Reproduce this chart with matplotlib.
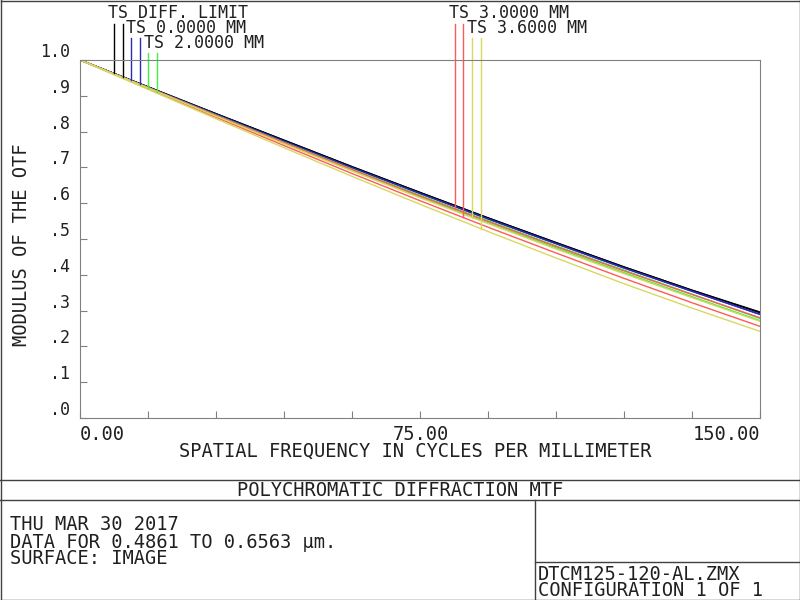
import matplotlib
matplotlib.use("Agg")
import matplotlib.pyplot as plt
from matplotlib.lines import Line2D
import numpy as np

freq = [0, 15, 30, 45, 60, 75, 90, 105, 120, 135, 150]
diff_t = [1, .925, .850, .776, .702, .630, .559, .490, .422, .357, .296]
diff_s = [1, .925, .850, .776, .702, .630, .559, .490, .422, .357, .294]
f0_t = [1, .924, .848, .773, .699, .627, .556, .487, .419, .354, .290]
f0_s = [1, .924, .848, .773, .699, .627, .556, .487, .419, .354, .289]
f2_t = [1, .923, .846, .770, .695, .622, .551, .481, .413, .346, .278]
f2_s = [1, .922, .844, .767, .691, .617, .545, .475, .406, .339, .272]
f3_t = [1, .923, .845, .769, .694, .620, .549, .479, .411, .345, .280]
f3_s = [1, .920, .840, .761, .683, .607, .533, .461, .390, .322, .256]
f36_t = [1, .922, .843, .766, .690, .615, .543, .472, .403, .336, .270]
f36_s = [1, .918, .836, .755, .675, .597, .521, .447, .375, .307, .242]
labels = ["TS DIFF. LIMIT", "TS 0.0000 MM", "TS 2.0000 MM", "TS 3.0000 MM", "TS 3.6000 MM"]
xticklabels = ["0.00", "75.00", "150.00"]
yticklabels = ["1.0", ".9", ".8", ".7", ".6", ".5", ".4", ".3", ".2", ".1", ".0"]

colors = ["#000000", "#2a2ab8", "#40f040", "#ff5a5a", "#d8d860"]
series = [(diff_t, diff_s), (f0_t, f0_s), (f2_t, f2_s), (f3_t, f3_s), (f36_t, f36_s)]

W, H = 800, 600
fig = plt.figure(figsize=(8, 6), dpi=100)
ax = fig.add_axes([80/W, 1-418/H, 680/W, 358/H])
ax.set_xlim(0, 150)
ax.set_ylim(0, 1)
for (t, s), c in zip(series, colors):
    ax.plot(freq, t, color=c, lw=1)
    ax.plot(freq, s, color=c, lw=1)
for sp in ax.spines.values():
    sp.set_color("#808080")
ax.set_xticks([15*i for i in range(11)])
ax.set_yticks([0.1*i for i in range(11)])
ax.tick_params(direction="in", length=5, color="#808080", labelleft=False, labelbottom=False)

px = lambda x: (x-80)/680*150
py = lambda y: (418-y)/358
legend_x = [(114, 123), (131, 140), (148, 157), (455, 463), (472, 481)]
legend_top = [24, 38, 53, 24, 38]
for (xa, xb), top, (t, s), c in zip(legend_x, legend_top, series, colors):
    for xx, ys in ((xa, t), (xb, s)):
        fx = px(xx)
        ax.plot([fx, fx], [float(np.interp(fx, freq, ys)), py(top)], color=c, lw=1, clip_on=False)

mono = dict(family="DejaVu Sans Mono", color="#202020", fontsize=13.5)
def T(x, y, s, ha="left", **kw):
    d = dict(mono); d.update(kw)
    fig.text(x/W, 1-y/H, s, ha=ha, va="center", **d)

LS = dict(fontsize=12)
T(108, 13, labels[0], **LS); T(126, 28, labels[1], **LS); T(144, 43, labels[2], **LS)
T(449, 13, labels[3], **LS); T(467, 28, labels[4], **LS)
for i, lab in enumerate(yticklabels):
    T(70, 60 + i*35.8 - 8, lab, ha="right", **LS)
T(80, 434, xticklabels[0]); T(421, 434, xticklabels[1], ha="center"); T(760, 434, xticklabels[2], ha="right")
T(415, 451, "SPATIAL FREQUENCY IN CYCLES PER MILLIMETER", ha="center")
fig.text(22/W, 1-245/H, "MODULUS OF THE OTF", rotation=90, ha="center", va="center", **mono)
T(400, 490, "POLYCHROMATIC DIFFRACTION MTF", ha="center")
T(10, 525, "THU MAR 30 2017"); T(10, 542, "DATA FOR 0.4861 TO 0.6563 µm.")
T(10, 558, "SURFACE: IMAGE")
T(538, 574, "DTCM125-120-AL.ZMX"); T(538, 590, "CONFIGURATION 1 OF 1")

lc = "#404040"
def L(x0, y0, x1, y1):
    fig.add_artist(Line2D([x0/W, x1/W], [1-y0/H, 1-y1/H], color=lc, lw=1))
L(0.5, 0.5, 799.5, 0.5); L(0.5, 599.5, 799.5, 599.5); L(0.5, 0, 0.5, 600); L(799.5, 0, 799.5, 600)
L(0, 480, 800, 480); L(0, 500, 800, 500); L(535, 500, 535, 600); L(535, 562, 800, 562)

fig.savefig("out.png", dpi=100)
